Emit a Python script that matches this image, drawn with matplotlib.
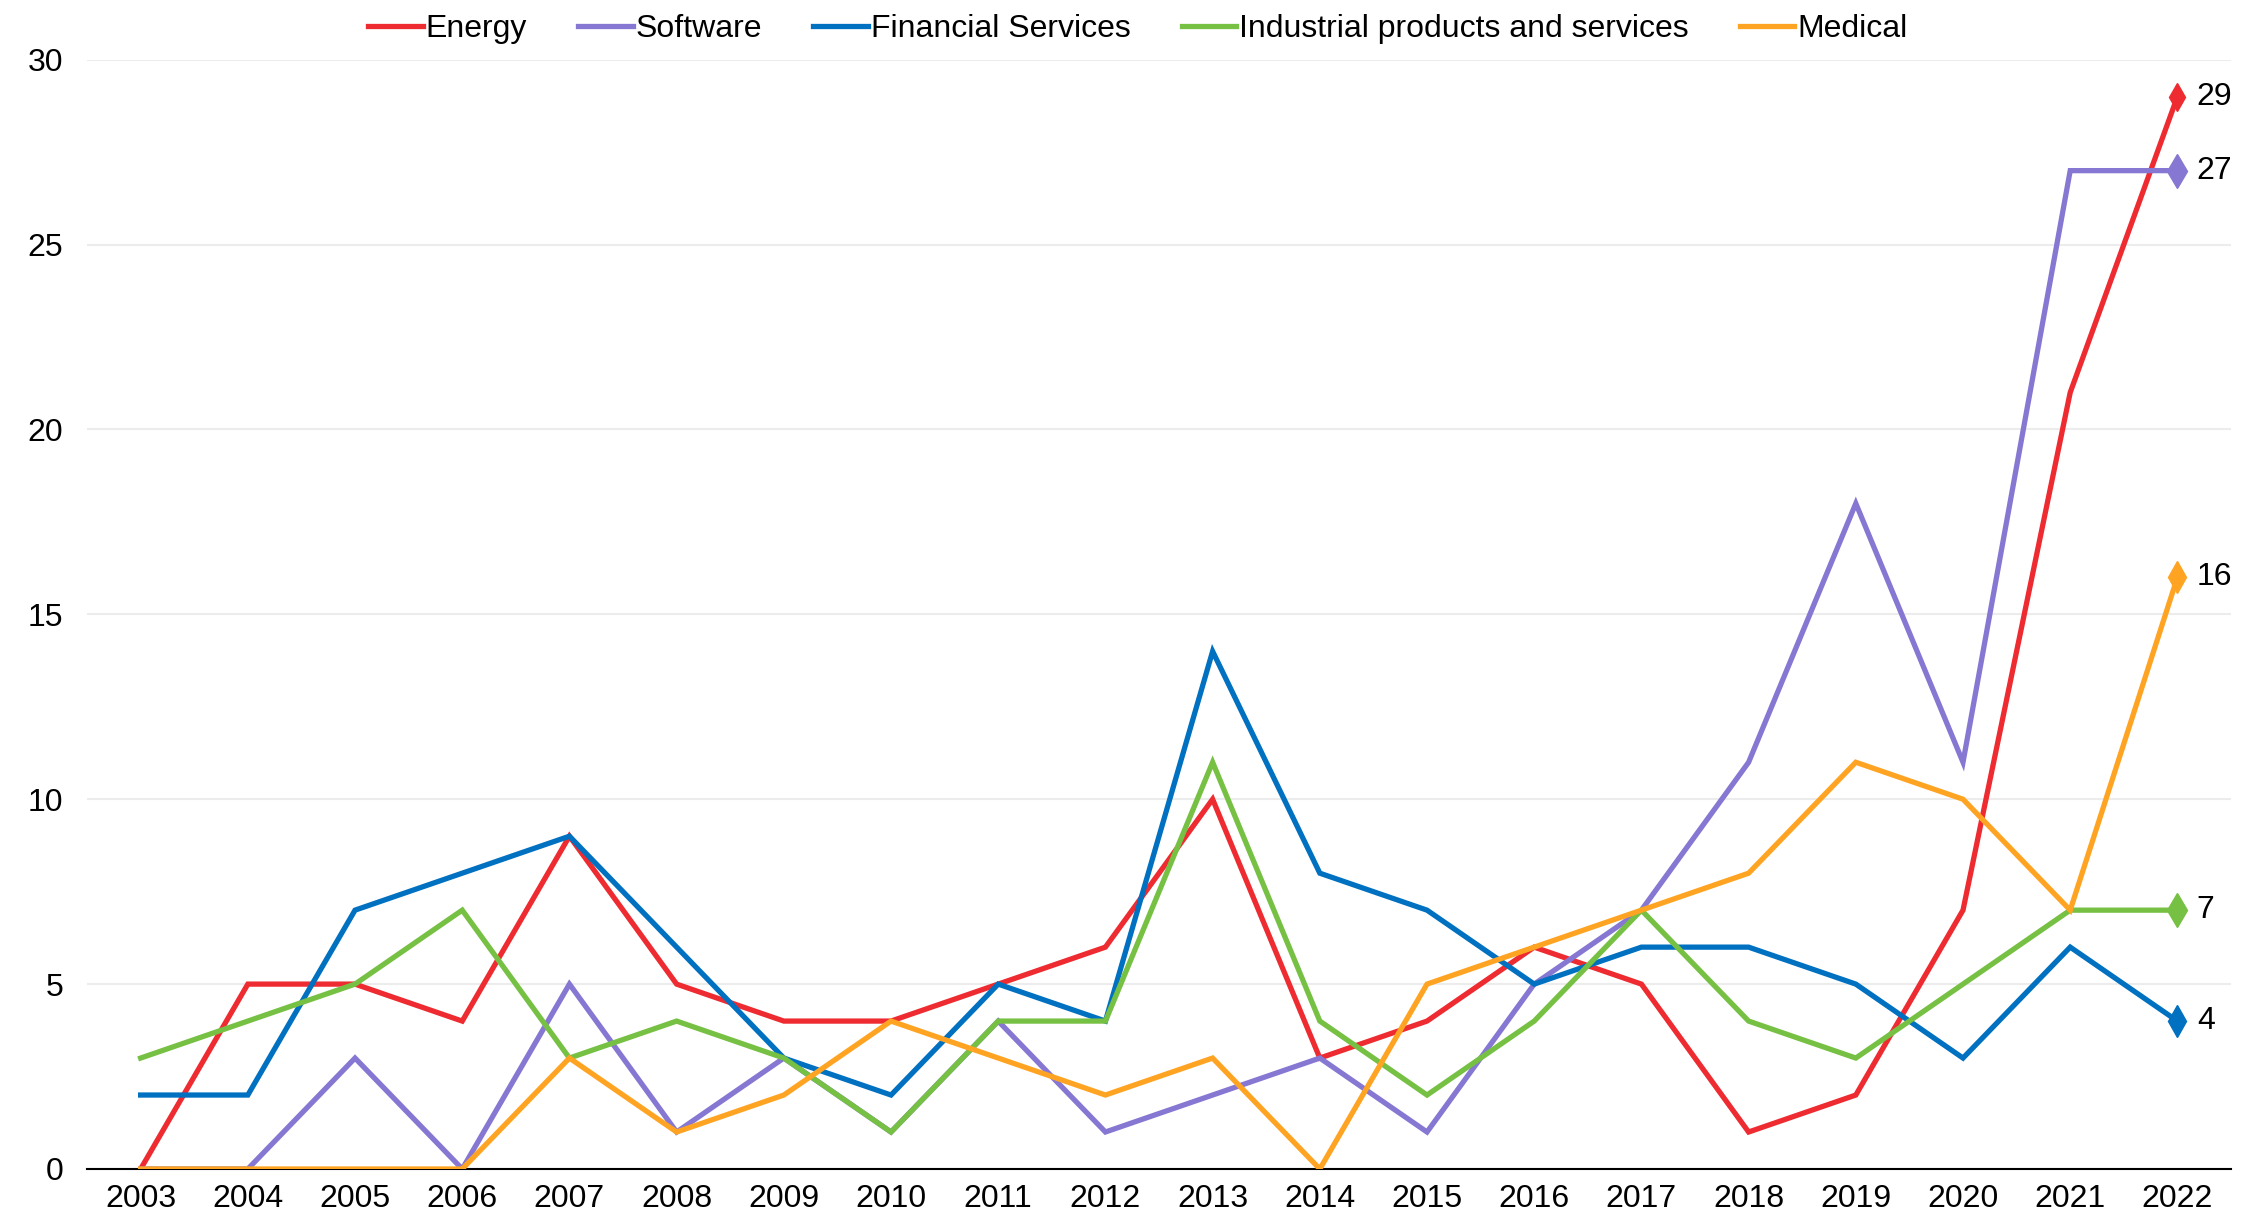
"""
Line chart of yearly counts per sector, 2003-2022, with end-point labels.
"""

import matplotlib
matplotlib.use("Agg")
import matplotlib.pyplot as plt

# ============================== data =========================================

years = list(range(2003, 2023))

energy = [0, 5, 5, 4, 9, 5, 4, 4, 5, 6, 10, 3, 4, 6, 5, 1, 2, 7, 21, 29]
software = [0, 0, 3, 0, 5, 1, 3, 1, 4, 1, 2, 3, 1, 5, 7, 11, 18, 11, 27, 27]
financial = [2, 2, 7, 8, 9, 6, 3, 2, 5, 4, 14, 8, 7, 5, 6, 6, 5, 3, 6, 4]
industrial = [3, 4, 5, 7, 3, 4, 3, 1, 4, 4, 11, 4, 2, 4, 7, 4, 3, 5, 7, 7]
medical = [0, 0, 0, 0, 3, 1, 2, 4, 3, 2, 3, 0, 5, 6, 7, 8, 11, 10, 7, 16]

series_names = ["Energy", "Software", "Financial Services",
                "Industrial products and services", "Medical"]
series_values = [energy, software, financial, industrial, medical]

# ============================== style ========================================

colors = ["#EE2B30", "#8677D2", "#0070C0", "#76C043", "#FFA422"]
markers = ['d', 'd', 'd', 'd', 'd']
marker_sizes = [14, 17, 16, 17, 16]
FONT_SIZE = 23

# ============================== main =========================================

def main():
    plt.rcParams['font.family'] = ['Liberation Sans', 'DejaVu Sans']
    plt.rcParams['font.size'] = FONT_SIZE

    fig = plt.figure(figsize=(22.49, 12.21), dpi=100)
    ax = fig.add_axes([0.0387, 0.0426, 0.9533, 0.9085])

    for name, vals, col, mk, ms in zip(series_names, series_values, colors,
                                       markers, marker_sizes):
        ax.plot(years, vals, '-', color=col, linewidth=3.8, label=name,
                solid_joinstyle='miter', zorder=3)
        # end point marker and label
        ax.plot(years[-1], vals[-1], mk, color=col, markersize=ms,
                clip_on=False, zorder=4)
        ax.annotate(str(vals[-1]), xy=(years[-1], vals[-1]), xytext=(14, 0),
                    textcoords='offset points', va='center', ha='left',
                    fontsize=FONT_SIZE, color='black', annotation_clip=False)

    # y axis
    ax.set_ylim(0, 30)
    ax.set_yticks(range(0, 31, 5))
    ax.grid(axis='y', color='#ECECEC', linewidth=1.5, zorder=0)
    ax.set_axisbelow(True)

    # x axis
    ax.set_xlim(years[0] - 0.5, years[-1] + 0.5)
    ax.set_xticks(years)
    ax.tick_params(axis='both', length=0, labelsize=FONT_SIZE)
    ax.tick_params(axis='y', pad=17)
    ax.tick_params(axis='x', pad=11)

    for side in ['top', 'right', 'left']:
        ax.spines[side].set_visible(False)
    ax.spines['bottom'].set_color('black')
    ax.spines['bottom'].set_linewidth(1.5)

    fig.legend(loc='center', bbox_to_anchor=(0.506, 0.976), ncol=5,
               frameon=False, handlelength=1.7, handletextpad=0.1,
               columnspacing=1.6, fontsize=FONT_SIZE)

    plt.savefig("out.png", dpi=100)


if __name__ == "__main__":
    main()
